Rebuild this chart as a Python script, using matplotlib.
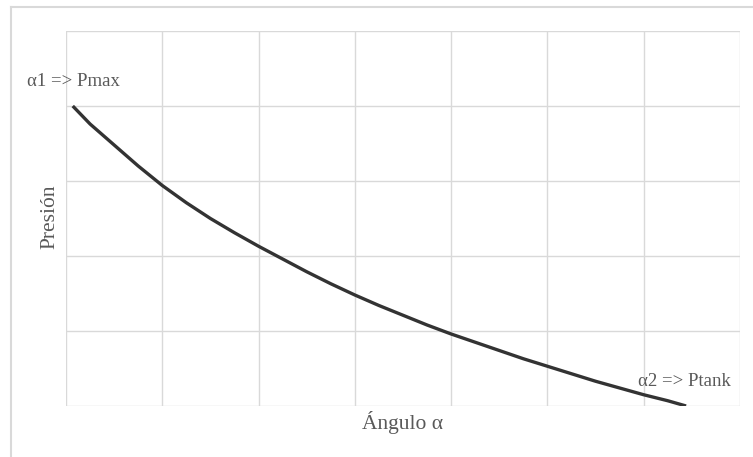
import matplotlib.pyplot as plt
from matplotlib.lines import Line2D

# curve (angle vs pressure, arbitrary units)
angulo = [0.07, 0.25, 0.5, 0.75, 1.0, 1.25, 1.5, 1.75, 2.0, 2.25, 2.5, 2.75, 3.0, 3.25,
          3.5, 3.75, 4.0, 4.25, 4.5, 4.75, 5.0, 5.25, 5.5, 5.75, 6.0, 6.25, 6.44]
presion = [4.0, 3.76, 3.48, 3.20, 2.94, 2.71, 2.50, 2.31, 2.13, 1.96, 1.79, 1.63, 1.48, 1.34,
           1.21, 1.08, 0.96, 0.85, 0.74, 0.63, 0.53, 0.43, 0.33, 0.24, 0.15, 0.07, 0.0]

W, H = 753, 457
fig = plt.figure(figsize=(W / 100, H / 100), dpi=100)
ax = fig.add_axes([66 / W, (H - 406) / H, 674 / W, 375 / H])

serif = ['Liberation Serif', 'DejaVu Serif']
txt = '#595959'

ax.plot(angulo, presion, color='#333333', lw=2.4, solid_capstyle='butt',
        solid_joinstyle='round', zorder=3)
ax.set_xlim(0, 7)
ax.set_ylim(0, 5)
ax.set_xticks(range(8))
ax.set_yticks(range(6))
ax.grid(True, color='#d9d9d9', lw=1)
ax.tick_params(length=0, labelbottom=False, labelleft=False)
for s in ax.spines.values():
    s.set_visible(False)

ax.text(0.08, 4.32, 'α1 => Pmax', ha='center', va='center', fontsize=13.5,
        family=serif, color=txt, clip_on=False)
ax.text(6.42, 0.32, 'α2 => Ptank', ha='center', va='center', fontsize=13.5,
        family=serif, color=txt, clip_on=False)

fig.text(403 / W, 1 - 423 / H, 'Ángulo α', ha='center', va='center',
         fontsize=15.5, family=serif, color=txt)
fig.text(50 / W, 1 - 217 / H, 'Presión', ha='center', va='center', rotation=90,
         fontsize=15.5, family=serif, color=txt)

# chart-area border (only top and left show in the crop)
fig.add_artist(Line2D([10.5 / W, 10.5 / W], [0, 1 - 6.5 / H], color='#d9d9d9', lw=1.5))
fig.add_artist(Line2D([10.5 / W, 1], [1 - 6.5 / H, 1 - 6.5 / H], color='#d9d9d9', lw=1.5))

fig.savefig('out.png', dpi=100)
